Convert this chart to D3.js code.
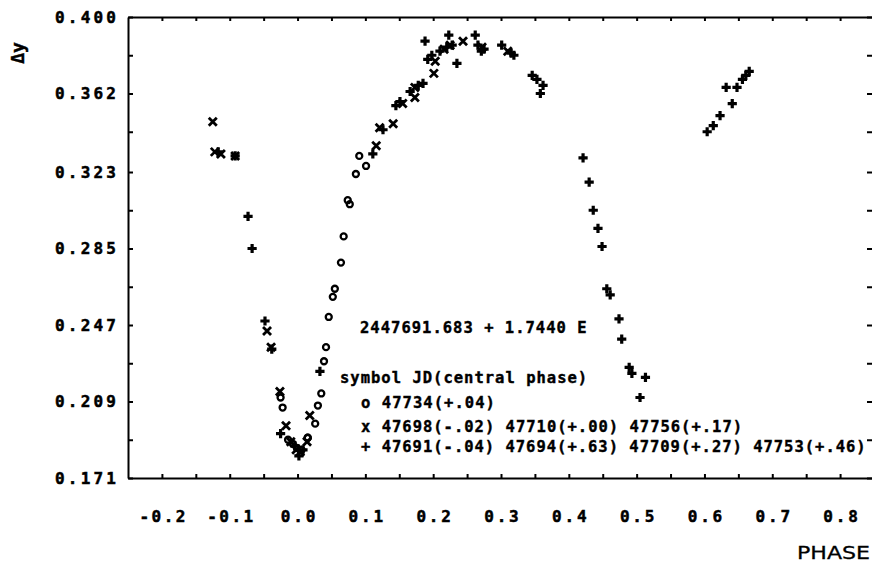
<!DOCTYPE html>
<html>
<head>
<meta charset="utf-8">
<script src="https://cdn.jsdelivr.net/npm/d3@7"></script>
<style>
  body { margin: 0; background: #fff; }
  .axis path, .axis line { stroke: #000; stroke-width: 2; }
  .axis text { font-family: "DejaVu Sans Mono", monospace; font-weight: bold; font-size: 16px; fill: #000; stroke: #000; stroke-width: 0.5; }
  .lbl { font-family: "DejaVu Sans Mono", monospace; font-weight: bold; font-size: 15.5px; fill: #000; stroke: #000; stroke-width: 0.4; }
</style>
</head>
<body>
<svg id="chart" width="872" height="565"></svg>
<script>
// phase, delta y
var circlePts = [
  [0.064, 0.278], [0.055, 0.265], [0.052, 0.261], [0.046, 0.251], [0.042, 0.236],
  [0.039, 0.229], [0.035, 0.213], [0.030, 0.207], [0.026, 0.198], [0.015, 0.191],
  [0.068, 0.291], [0.074, 0.309], [0.077, 0.307], [0.086, 0.322], [0.091, 0.331],
  [0.101, 0.326], [-0.025, 0.211], [-0.022, 0.206], [-0.014, 0.190], [-0.007, 0.188],
  [-0.001, 0.186], [0.006, 0.185], [0.015, 0.191]
]

var crossPts = [
  [-0.125, 0.348], [-0.122, 0.333], [-0.113, 0.332], [-0.092, 0.331], [-0.045, 0.244],
  [-0.039, 0.236], [-0.026, 0.214], [-0.017, 0.197], [-0.010, 0.189], [-0.002, 0.185],
  [0.004, 0.184], [0.014, 0.189], [0.018, 0.202], [0.116, 0.336], [0.121, 0.345],
  [0.141, 0.347], [0.155, 0.357], [0.173, 0.360], [0.173, 0.365], [0.201, 0.372],
  [0.203, 0.378], [0.216, 0.384], [0.225, 0.386], [0.244, 0.388], [0.272, 0.385],
  [0.310, 0.383]
]

var plusPts = [
  [-0.117, 0.333], [-0.092, 0.331], [-0.073, 0.301], [-0.067, 0.285], [-0.048, 0.249],
  [-0.038, 0.235], [-0.025, 0.193], [-0.004, 0.187], [0.002, 0.182], [0.008, 0.185],
  [0.033, 0.224], [0.111, 0.332], [0.126, 0.344], [0.145, 0.356], [0.151, 0.358],
  [0.166, 0.363], [0.178, 0.366], [0.185, 0.367], [0.188, 0.388], [0.192, 0.379],
  [0.198, 0.381], [0.210, 0.383], [0.220, 0.385], [0.228, 0.386], [0.223, 0.391],
  [0.235, 0.377], [0.262, 0.391], [0.266, 0.386], [0.275, 0.384], [0.271, 0.383],
  [0.301, 0.386], [0.315, 0.382], [0.319, 0.381], [0.346, 0.371], [0.353, 0.369],
  [0.362, 0.366], [0.358, 0.362], [0.421, 0.330], [0.430, 0.318], [0.436, 0.304],
  [0.443, 0.295], [0.449, 0.286], [0.456, 0.265], [0.461, 0.262], [0.474, 0.250],
  [0.478, 0.240], [0.489, 0.226], [0.493, 0.223], [0.513, 0.221], [0.505, 0.211],
  [0.604, 0.343], [0.613, 0.346], [0.623, 0.351], [0.641, 0.357], [0.632, 0.365],
  [0.648, 0.365], [0.656, 0.369], [0.661, 0.371], [0.666, 0.373]
]

var xTicks = [-0.2, -0.15, -0.1, -0.05, 0, 0.05, 0.1, 0.15, 0.2, 0.25, 0.3, 0.35, 0.4, 0.45, 0.5, 0.55, 0.6, 0.65, 0.7, 0.75, 0.8]
var yTicks = [0.171, 0.209, 0.247, 0.285, 0.323, 0.362, 0.400]
var yHalfTicks = [0.190, 0.228, 0.266, 0.304, 0.343, 0.381]

var legendLines = [
  "2447691.683 + 1.7440 E",
  "symbol JD(central phase)",
  "o 47734(+.04)",
  "x 47698(-.02) 47710(+.00) 47756(+.17)",
  "+ 47691(-.04) 47694(+.63) 47709(+.27) 47753(+.46)"
]

var margin = {top: 17, left: 128, bottom: 478, right: 874}
var svg = d3.select("#chart")

var x = d3.scaleLinear().domain([-0.25, 0.85]).range([margin.left, margin.right])
var y = d3.scaleLinear().domain([0.171, 0.400]).range([margin.bottom, margin.top])

var allY = yTicks.concat(yHalfTicks)

// bottom axis, labels only on the tenths
var xb = svg.append("g").attr("class", "axis")
    .attr("transform", "translate(0," + margin.bottom + ")")
    .call(d3.axisBottom(x).tickValues(xTicks).tickSizeInner(-4).tickSizeOuter(0).tickPadding(33)
        .tickFormat(function(d) { return Math.abs(Math.round(d * 20)) % 2 === 0 ? d3.format(".1f")(d).replace("\u2212", "-") : "" }))
xb.selectAll("text").each(function() {
    var t = d3.select(this).text()
    if (t) d3.select(this).attr("textLength", t.length * 11.5).attr("lengthAdjust", "spacing")
})

svg.append("g").attr("class", "axis")
    .attr("transform", "translate(0," + margin.top + ")")
    .call(d3.axisTop(x).tickValues(xTicks).tickSizeInner(-4).tickSizeOuter(0).tickFormat(""))

var yl = svg.append("g").attr("class", "axis")
    .attr("transform", "translate(" + margin.left + ",0)")
    .call(d3.axisLeft(y).tickValues(allY).tickSizeInner(-5).tickSizeOuter(0).tickPadding(12)
        .tickFormat(function(d) { return yTicks.indexOf(d) >= 0 ? d3.format(".3f")(d) : "" }))
yl.selectAll("text").each(function() {
    var t = d3.select(this).text()
    if (t) d3.select(this).attr("textLength", 61).attr("lengthAdjust", "spacing")
})

svg.append("g").attr("class", "axis")
    .attr("transform", "translate(" + margin.right + ",0)")
    .call(d3.axisRight(y).tickValues(allY).tickSizeInner(-7).tickSizeOuter(0).tickFormat(""))

// markers
var pts = svg.append("g")

pts.selectAll(".circ").data(circlePts).enter().append("circle")
    .attr("cx", function(d) { return x(d[0]) })
    .attr("cy", function(d) { return y(d[1]) })
    .attr("r", 3)
    .attr("fill", "none").attr("stroke", "#000").attr("stroke-width", 2.3)

pts.selectAll(".cross").data(crossPts).enter().append("path")
    .attr("transform", function(d) { return "translate(" + x(d[0]) + "," + y(d[1]) + ")" })
    .attr("d", "M-4,-4L4,4M-4,4L4,-4")
    .attr("stroke", "#000").attr("stroke-width", 2.8)

pts.selectAll(".plus").data(plusPts).enter().append("path")
    .attr("transform", function(d) { return "translate(" + x(d[0]) + "," + y(d[1]) + ")" })
    .attr("d", "M-4.6,0H4.6M0,-4.6V4.6")
    .attr("stroke", "#000").attr("stroke-width", 3.2)

// legend text block
var legendPos = [[360, 328], [340, 378], [361, 403], [361, 427], [361, 447]]
svg.selectAll(".leg").data(legendLines).enter().append("text")
    .attr("class", "lbl")
    .attr("x", function(d, i) { return legendPos[i][0] })
    .attr("y", function(d, i) { return legendPos[i][1] })
    .attr("dominant-baseline", "central")
    .attr("textLength", function(d) { return d.length * 10.3 })
    .attr("lengthAdjust", "spacing")
    .text(function(d) { return d })

// axis titles
svg.append("text")
    .attr("x", 797).attr("y", 553)
    .attr("dominant-baseline", "central")
    .attr("textLength", 73).attr("lengthAdjust", "spacingAndGlyphs")
    .style("font-family", "DejaVu Sans").style("font-size", "17px")
    .style("stroke", "#000").style("stroke-width", 0.3)
    .text("PHASE")

svg.append("text")
    .attr("class", "lbl")
    .attr("transform", "translate(17,53) rotate(-90)")
    .attr("text-anchor", "middle").attr("dominant-baseline", "central")
    .style("font-size", "18px")
    .text("\u0394y")
</script>
</body>
</html>
